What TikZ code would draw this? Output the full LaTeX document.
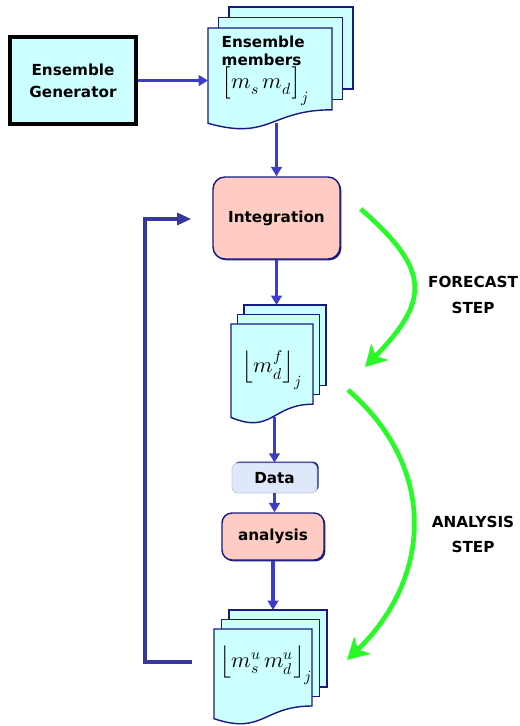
\documentclass[tikz,border=0pt]{standalone}
\usepackage{fontspec}
\usepackage{unicode-math}
\setmainfont{DejaVu Sans}
\setmathfont{Latin Modern Math}
\usetikzlibrary{arrows.meta,calc,backgrounds,shadows}

\definecolor{docfill}{RGB}{204,255,255}
\definecolor{boxline}{RGB}{25,25,130}
\definecolor{flowblue}{RGB}{60,60,200}
\definecolor{backblue}{RGB}{55,55,160}
\definecolor{procfill}{RGB}{255,204,196}
\definecolor{datafill}{RGB}{222,232,250}
\definecolor{stepgreen}{RGB}{40,250,40}

\newcommand\mathsize{\fontsize{19}{21}\selectfont}
\newcommand\tallstrut{\rule[-7pt]{0pt}{26pt}}

\tikzset{
  genbox/.style={draw=black, line width=3pt, fill=docfill, minimum width=3.78cm,
    minimum height=2.61cm, align=center, font=\bfseries\fontsize{13}{19}\selectfont},
  procbox/.style={draw=boxline, line width=1.2pt, fill=procfill,
    font=\bfseries\fontsize{13}{15}\selectfont,
    general shadow={fill=boxline, shadow xshift=0.04cm, shadow yshift=-0.04cm}},
  databox/.style={draw=datafill!85!boxline, line width=0.6pt, fill=datafill,
    font=\bfseries\fontsize{13}{15}\selectfont,
    general shadow={fill=boxline, shadow xshift=0.05cm, shadow yshift=0.04cm}},
  docnode/.style={inner sep=0pt, font=\bfseries\fontsize{13}{15}\selectfont},
  docpage/.style={draw=boxline, line width=1.2pt, fill=docfill},
  flow/.style={draw=flowblue, line width=2.8pt, -{Triangle[length=8pt,width=9pt]}},
  backline/.style={draw=backblue, line width=3.2pt, -{Triangle[length=12pt,width=10pt]}},
  steparrow/.style={draw=stepgreen, line width=4pt, -{Stealth[length=18pt,width=20pt,inset=5pt]}},
  steplabel/.style={align=center, font=\bfseries\fontsize{13}{22}\selectfont}
}

% stack of pages behind a text node: name, left, top, width, height, dx, dy (pixels)
\newcommand\docstack[7]{%
  \begin{scope}[on background layer, shift={(#1.center)}]
    \foreach \k in {2,1} {
      \draw[docpage] ({#2+\k*#6},{#3-\k*#7}) rectangle ({#2+#4+\k*#6},{#3+0.802*#5-\k*#7});
    }
    \draw[docpage] (#2,#3) -- ({#2+#4},#3) -- ({#2+#4},{#3+0.802*#5})
      .. controls ({#2+0.5*#4},{#3+0.802*#5}) and ({#2+0.5*#4},{#3+1.107*#5}) .. (#2,{#3+0.934*#5}) -- cycle;
    \coordinate (#1-top) at (0,{#3-2*#7});
    \coordinate (#1-left) at (#2,0);
    \coordinate (#1-bot) at (0,{#3+0.93*#5});
  \end{scope}}

\begin{document}
\begin{tikzpicture}[x=0.03cm, y=-0.03cm]
  \useasboundingbox (0,0) rectangle (519,726);

  % Boxes
  \node[genbox] (gen) at (73,80.5) {Ensemble\\Generator};
  \node[docnode, align=left] (mem) at (265,71)
    {Ensemble\\members\\{\mathsize$\left[\tallstrut m_s\,m_d\right]_j$}};
  \node[procbox, minimum width=3.81cm, minimum height=2.46cm, rounded corners=0.36cm]
    (int) at (276.5,218) {Integration};
  \node[docnode] (doc2) at (272,370) {\mathsize$\left\lfloor\tallstrut m_d^f\right\rfloor_j$};
  \node[databox, minimum width=2.55cm, minimum height=0.9cm, rounded corners=0.18cm]
    (data) at (274.5,478) {Data};
  \node[procbox, minimum width=3.06cm, minimum height=1.41cm, rounded corners=0.3cm]
    (ana) at (273,536.5) {analysis};
  \node[docnode] (doc3) at (266,665) {\mathsize$\left\lfloor\tallstrut m_s^u\,m_d^u\right\rfloor_j$};

  % Pages
  \docstack{mem}{-57}{-43}{124}{102}{10.5}{10.5}
  \docstack{doc2}{-41}{-46}{82}{100}{6.5}{9.5}
  \docstack{doc3}{-52}{-36}{98}{96}{7.5}{9.5}

  % Flow
  \draw[flow] (gen.east) -- (gen.east -| mem-left);
  \draw[flow] (int.north |- mem-bot) -- (int.north);
  \draw[flow] (int.south) -- (int.south |- doc2-top);
  \draw[flow] (data.north |- doc2-bot) -- (data.north);
  \draw[flow] (data.south) -- (data.south |- ana.north);
  \draw[flow] (ana.south) -- (ana.south |- doc3-top);

  % Feedback
  \coordinate (backfrom) at ($(doc3.center)+(-74,-3)$);
  \coordinate (backto) at ($(int.west)+(-21,1)$);
  \draw[backline] (backfrom) -- ++(-47,0) |- (backto);

  % Steps
  \coordinate (fcfrom) at ($(int.east)+(20,-9)$);
  \coordinate (fcto) at ($(doc2.center)+(93,-3)$);
  \draw[steparrow] (fcfrom) .. controls +(70,61) and +(65,-67) .. (fcto);
  \coordinate (anfrom) at ($(doc2.center)+(76,20)$);
  \coordinate (anto) at ($(doc3.center)+(81,-5)$);
  \draw[steparrow] (anfrom) .. controls +(92,80) and +(83,-80) .. (anto);

  \node[steplabel] (fclabel) at (473,295) {FORECAST\\STEP};
  \node[steplabel] (anlabel) at (473,534.5) {ANALYSIS\\STEP};
\end{tikzpicture}
\end{document}
